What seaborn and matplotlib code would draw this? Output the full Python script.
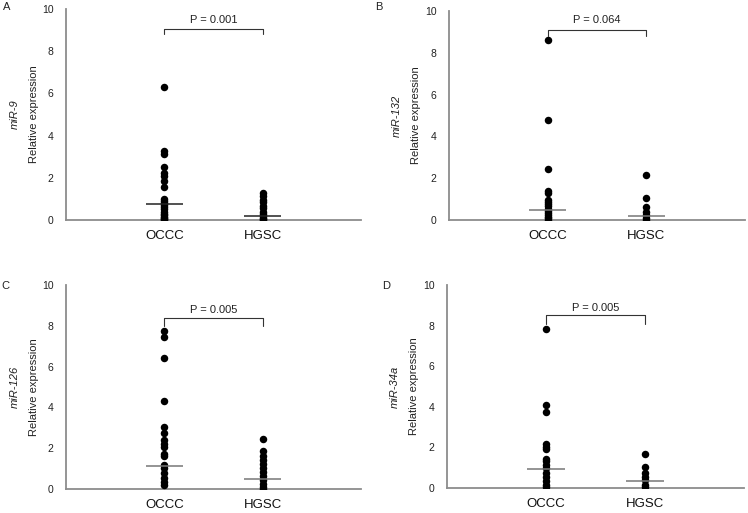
import matplotlib
matplotlib.use("Agg")
import matplotlib.pyplot as plt
import seaborn as sns
import pandas as pd

sns.set_style("white")
plt.rcParams['font.family'] = ['Liberation Sans', 'DejaVu Sans']

groups = ["OCCC", "HGSC"]
panel_letters = ["A", "B", "C", "D"]
mirnas = ["miR-9", "miR-132", "miR-126", "miR-34a"]
p_texts = ["P = 0.001", "P = 0.064", "P = 0.005", "P = 0.005"]

a_occc = [6.28, 3.28, 3.15, 2.5, 2.25, 2.1, 1.85, 1.55, 0.98, 0.9, 0.8, 0.7,
          0.6, 0.5, 0.4, 0.3, 0.22, 0.15, 0.08, 0.03, 0.0]
a_hgsc = [1.28, 1.15, 0.95, 0.85, 0.65, 0.55, 0.4, 0.3, 0.2, 0.1, 0.05, 0.0]
b_occc = [8.6, 4.77, 2.42, 1.4, 1.29, 0.97, 0.85, 0.75, 0.65, 0.55, 0.45,
          0.35, 0.25, 0.15, 0.08, 0.02]
b_hgsc = [2.14, 1.05, 0.62, 0.38, 0.22, 0.1, 0.0]
c_occc = [7.75, 7.44, 6.44, 4.33, 3.03, 2.74, 2.39, 2.21, 2.05, 1.72, 1.64,
          1.16, 1.02, 0.79, 0.54, 0.34, 0.21]
c_hgsc = [2.46, 1.85, 1.64, 1.44, 1.25, 1.03, 0.82, 0.62, 0.43, 0.25, 0.1, 0.0]
d_occc = [7.81, 4.08, 3.75, 2.17, 2.04, 1.92, 1.43, 1.32, 1.15, 0.99, 0.74,
          0.54, 0.33, 0.16, 0.03]
d_hgsc = [1.68, 1.04, 0.74, 0.54, 0.38, 0.16, 0.03]

occc_median = [0.78, 0.48, 1.11, 0.95]
hgsc_median = [0.20, 0.18, 0.49, 0.36]

bracket_top = [9.05, 9.1, 8.4, 8.5]
bracket_bottom = [8.8, 8.8, 8.0, 8.1]
p_text_y = [9.5, 9.55, 8.78, 8.85]

data_sets = [(a_occc, a_hgsc), (b_occc, b_hgsc), (c_occc, c_hgsc), (d_occc, d_hgsc)]
line_colors = ["#222222", "#777777", "#777777", "#777777"]

W, H = 748, 513
fig = plt.figure(figsize=(W / 100, H / 100), dpi=100)

# axes boxes in pixels: left, top, right, bottom
boxes = [(66, 9, 361, 220), (449, 11, 745, 220), (66, 285, 361, 489), (447, 285, 744, 488)]
letter_pos = [(7, 7), (379, 7), (5, 286), (386, 286)]

for i, (box, (occ, hg)) in enumerate(zip(boxes, data_sets)):
    l, t, r, b = box
    ax = fig.add_axes([l / W, 1 - b / H, (r - l) / W, (b - t) / H])
    df = pd.DataFrame({
        "group": ["OCCC"] * len(occ) + ["HGSC"] * len(hg),
        "value": list(occ) + list(hg),
    })
    sns.stripplot(data=df, x="group", y="value", order=groups, jitter=False,
                  color="black", size=5.4, linewidth=0, ax=ax, zorder=3)
    ax.hlines([occc_median[i], hgsc_median[i]], [-0.19, 0.81], [0.19, 1.19],
              colors=line_colors[i], linewidth=1.1, zorder=4)
    ax.plot([0, 0, 1, 1], [bracket_bottom[i], bracket_top[i], bracket_top[i], bracket_bottom[i]],
            color="#333333", linewidth=0.8)
    ax.text(0.5, p_text_y[i], p_texts[i], ha="center", va="center", fontsize=8, color="#222222")
    ax.set_xlim(-1, 2)
    ax.set_ylim(0, 10)
    ax.set_yticks([0, 2, 4, 6, 8, 10])
    ax.set_xlabel("")
    ax.set_ylabel("")
    for s in ["top", "right"]:
        ax.spines[s].set_visible(False)
    for s in ["left", "bottom"]:
        ax.spines[s].set_color("#8c8c8c")
        ax.spines[s].set_linewidth(1.3)
    ax.tick_params(axis="y", length=0, pad=9, labelsize=7.5, labelcolor="#222222")
    ax.tick_params(axis="x", length=0, pad=7, labelsize=9.5, labelcolor="#111111")
    ax.text(-0.175, 0.5, mirnas[i], rotation=90, style="italic", ha="center", va="center",
            fontsize=8, transform=ax.transAxes, color="#222222")
    ax.text(-0.11, 0.5, "Relative expression", rotation=90, ha="center", va="center",
            fontsize=8, transform=ax.transAxes, color="#222222")
    lx, ly = letter_pos[i]
    fig.text(lx / W, 1 - ly / H, panel_letters[i], ha="center", va="center", fontsize=8, color="#222222")

fig.savefig("out.png", dpi=100)
